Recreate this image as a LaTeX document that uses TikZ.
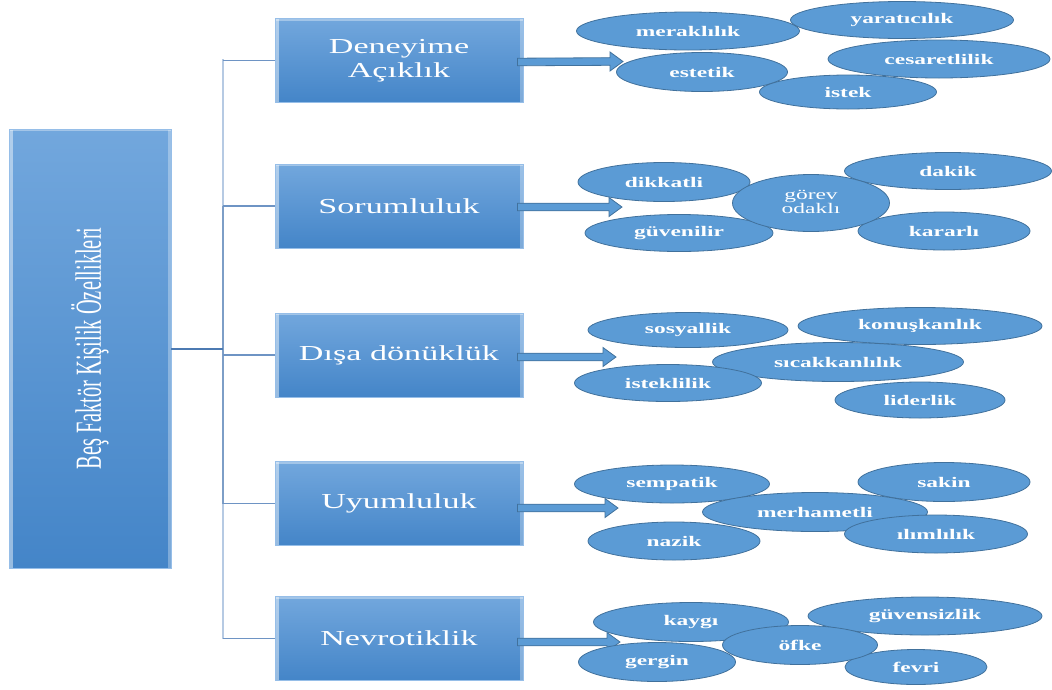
\documentclass[tikz,border=0pt]{standalone}
\usepackage{fontspec}
\setmainfont{Liberation Serif}
\usetikzlibrary{shapes.geometric,calc}

\definecolor{boxtop}{RGB}{114,167,221}
\definecolor{boxbot}{RGB}{68,133,200}
\definecolor{ellfill}{RGB}{91,155,213}
\definecolor{ellline}{RGB}{65,113,156}
\definecolor{trunk}{RGB}{182,202,227}
\definecolor{trunkdark}{RGB}{125,158,199}
\definecolor{branch}{RGB}{110,148,196}
\definecolor{stem}{RGB}{76,122,178}
\definecolor{rim}{RGB}{150,190,232}

% one drawing unit is one pixel
\newcommand{\px}{0.75pt}
% the lettering is set wide
\newcommand{\wide}[1]{\scalebox{1.6}[1]{#1}}

\tikzset{
  bevel/.style={
    path picture={
      \fill[white,opacity=0.45] (path picture bounding box.north west)
        rectangle ([xshift=3pt]path picture bounding box.south west);
      \fill[white,opacity=0.35] (path picture bounding box.north west)
        rectangle ([yshift=-1.5pt]path picture bounding box.north east);
      \fill[white,opacity=0.3] ([xshift=-2pt]path picture bounding box.north east)
        rectangle (path picture bounding box.south east);
    }},
  rootbox/.style={rectangle, inner sep=0pt, minimum width=162*\px, minimum height=439*\px,
    top color=boxtop, bottom color=boxbot, draw=rim, line width=0.6pt, bevel,
    text=white, font=\fontsize{15.3}{18}\selectfont},
  catbox/.style={rectangle, inner sep=0pt, minimum width=248*\px, minimum height=84*\px,
    top color=boxtop, bottom color=boxbot, draw=rim, line width=0.6pt, bevel,
    text=white, font=\fontsize{16}{19}\selectfont},
  trait/.style={ellipse, inner sep=0pt, fill=ellfill, draw=ellline, line width=0.6pt,
    text=white, font=\fontsize{11}{13}\selectfont\bfseries},
  barrow/.style={fill=ellfill, draw=ellline, line width=0.6pt, line join=miter},
  trunkline/.style={draw=trunk, line width=2.2pt},
  branchline/.style={draw=branch, line width=0.9pt},
  stemline/.style={draw=stem, line width=1.5pt}
}

% block arrow from #1 to #2
\newcommand{\blockarrow}[2]{%
  \draw[barrow] ($(#1)+(0,-3.8)$) -- ($(#2)+(-13,-3.8)$) -- ($(#2)+(-13,-9.5)$)
    -- (#2) -- ($(#2)+(-13,9.5)$) -- ($(#2)+(-13,3.8)$) -- ($(#1)+(0,3.8)$) -- cycle;}

\begin{document}
\begin{tikzpicture}[x=0.75pt,y=-0.75pt]
\useasboundingbox (0,0) rectangle (1052,689);

% root and the five factors
\node[rootbox] (root) at (90,348.5)
  {\rotatebox{90}{\scalebox{1}[1.8]{Beş Faktör Kişilik Özellikleri}}};
\node[catbox] (b1) at (399,60.5)
  {\wide{\begin{tabular}{@{}c@{}}Deneyime\\[-1pt]Açıklık\end{tabular}}};
\node[catbox] (b2) at (399,206) {\wide{Sorumluluk}};
\node[catbox] (b3) at (399,355) {\wide{Dışa dönüklük}};
\node[catbox] (b4) at (399,503.5) {\wide{Uyumluluk}};
\node[catbox] (b5) at (399,638.5) {\wide{Nevrotiklik}};

% tree connectors
\coordinate (jt) at (223,59);
\coordinate (jb) at (223,639);
\draw[trunkline] (jt) -- (jb);
\draw[draw=trunkdark, line width=1.2pt] (b2.west -| jt) -- (b4.west -| jt);
\foreach \b in {b1,b2,b3,b4,b5}
  \draw[branchline] (\b.west -| jt) -- (\b.west);
\draw[stemline] (root.east) -- (root.east -| jt);

% arrows towards the trait clusters
\coordinate (a1) at ($(b1.east)+(-6,1.5)$);  \coordinate (t1) at (623,61.5);
\coordinate (a2) at ($(b2.east)+(-6,1)$);    \coordinate (t2) at (622,207);
\coordinate (a3) at ($(b3.east)+(-6,2)$);    \coordinate (t3) at (616,357);
\coordinate (a4) at ($(b4.east)+(-6,4.5)$);  \coordinate (t4) at (618,508);
\coordinate (a5) at ($(b5.east)+(-6,3.5)$);  \coordinate (t5) at (620,642);
\blockarrow{a1}{t1}
\blockarrow{a2}{t2}
\blockarrow{a3}{t3}
\blockarrow{a4}{t4}
\blockarrow{a5}{t5}

% Deneyime Açıklık
\node[trait, minimum width=223*\px, minimum height=38*\px] (e11) at (688,31) {\wide{meraklılık}};
\node[trait, minimum width=223*\px, minimum height=37*\px] (e12) at (902,20) {\wide{yaratıcılık}};
\node[trait, minimum width=171*\px, minimum height=39*\px] (e13) at (702,72) {\wide{estetik}};
\node[trait, minimum width=222*\px, minimum height=38*\px] (e14) at (939,59) {\wide{cesaretlilik}};
\node[trait, minimum width=177*\px, minimum height=34*\px] (e15) at (848,92) {\wide{istek}};

% Sorumluluk
\node[trait, minimum width=172*\px, minimum height=39*\px] (e21) at (664,182) {\wide{dikkatli}};
\node[trait, minimum width=188*\px, minimum height=37*\px] (e22) at (679,233) {\wide{güvenilir}};
\node[trait, minimum width=207*\px, minimum height=37*\px] (e23) at (948,171) {\wide{dakik}};
\node[trait, minimum width=172*\px, minimum height=38*\px] (e24) at (944,231) {\wide{kararlı}};
\node[trait, minimum width=157*\px, minimum height=57*\px] (e25) at (811,203)
  {\wide{\begin{tabular}{@{}c@{}}\mdseries görev\\[-3pt]\mdseries odaklı\end{tabular}}};

% Dışa dönüklük
\node[trait, minimum width=200*\px, minimum height=35*\px] (e31) at (688,330) {\wide{sosyallik}};
\node[trait, minimum width=244*\px, minimum height=37*\px] (e32) at (920,326) {\wide{konuşkanlık}};
\node[trait, minimum width=251*\px, minimum height=39*\px] (e33) at (838,362) {\wide{sıcakkanlılık}};
\node[trait, minimum width=187*\px, minimum height=37*\px] (e34) at (668,383) {\wide{isteklilik}};
\node[trait, minimum width=170*\px, minimum height=36*\px] (e35) at (920,400) {\wide{liderlik}};

% Uyumluluk
\node[trait, minimum width=195*\px, minimum height=38*\px] (e41) at (672,484) {\wide{sempatik}};
\node[trait, minimum width=172*\px, minimum height=38*\px] (e42) at (674,541) {\wide{nazik}};
\node[trait, minimum width=172*\px, minimum height=39*\px] (e43) at (944,482) {\wide{sakin}};
\node[trait, minimum width=225*\px, minimum height=39*\px] (e44) at (815,512) {\wide{merhametli}};
\node[trait, minimum width=183*\px, minimum height=38*\px] (e45) at (936,534) {\wide{ılımlılık}};

% Nevrotiklik
\node[trait, minimum width=195*\px, minimum height=39*\px] (e51) at (691,622) {\wide{kaygı}};
\node[trait, minimum width=234*\px, minimum height=38*\px] (e52) at (925,616) {\wide{güvensizlik}};
\node[trait, minimum width=157*\px, minimum height=39*\px] (e53) at (657,662) {\wide{gergin}};
\node[trait, minimum width=142*\px, minimum height=35*\px] (e54) at (916,667) {\wide{fevri}};
\node[trait, minimum width=155*\px, minimum height=39*\px] (e55) at (800,645) {\wide{öfke}};
\end{tikzpicture}
\end{document}
